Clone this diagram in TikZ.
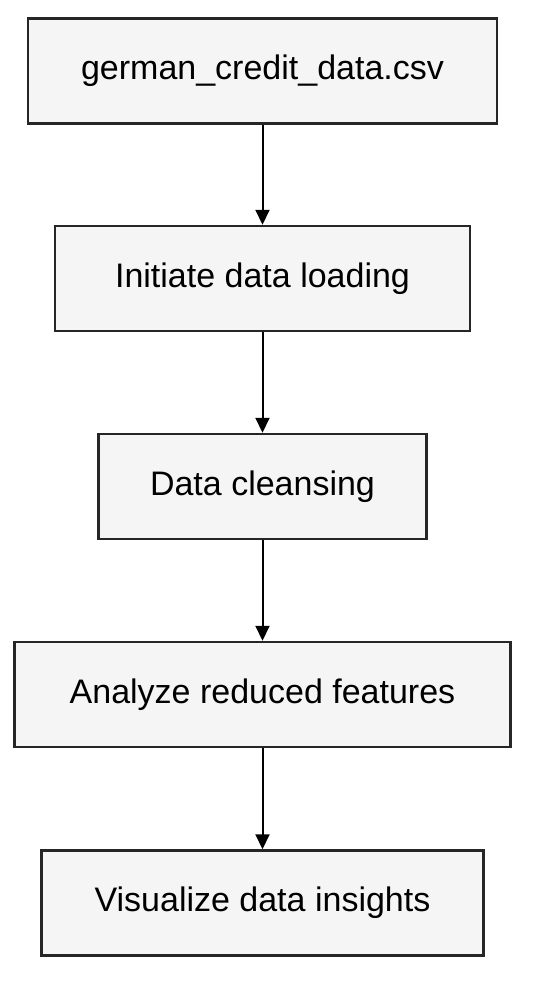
\documentclass[tikz,border=0pt]{standalone}
\usepackage{fontspec}
\setmainfont{Liberation Sans}
\usetikzlibrary{arrows.meta}
\tikzset{
  stepbox/.style={draw=black!85, line width=2.5pt, fill=black!4, minimum height=105pt,
    inner sep=0pt, font=\fontsize{34}{40}\selectfont},
  flow/.style={line width=2pt, -{Triangle[length=15pt,width=14pt]}}
}
\begin{document}
\begin{tikzpicture}[x=1pt,y=-1pt]
			%%%%% START %%%%%
			
			\useasboundingbox (0, 0) rectangle (544, 1004);
			
			\node[stepbox, minimum width=469pt] (csv) at (262.5, 71) {german\_credit\_data.csv};
			\node[stepbox, minimum width=415pt] (load) at (262.5, 278.5) {Initiate data loading};
			\node[stepbox, minimum width=328pt] (clean) at (262.5, 486.5) {Data cleansing};
			\node[stepbox, minimum width=496pt] (analyze) at (262.5, 694.5) {Analyze reduced features};
			\node[stepbox, minimum width=442pt] (visual) at (262.5, 903) {Visualize data insights};
			
			\draw[flow] (csv) -- (load);
			\draw[flow] (load) -- (clean);
			\draw[flow] (clean) -- (analyze);
			\draw[flow] (analyze) -- (visual);
			
			%%%%% END %%%%%
		\end{tikzpicture}
\end{document}
